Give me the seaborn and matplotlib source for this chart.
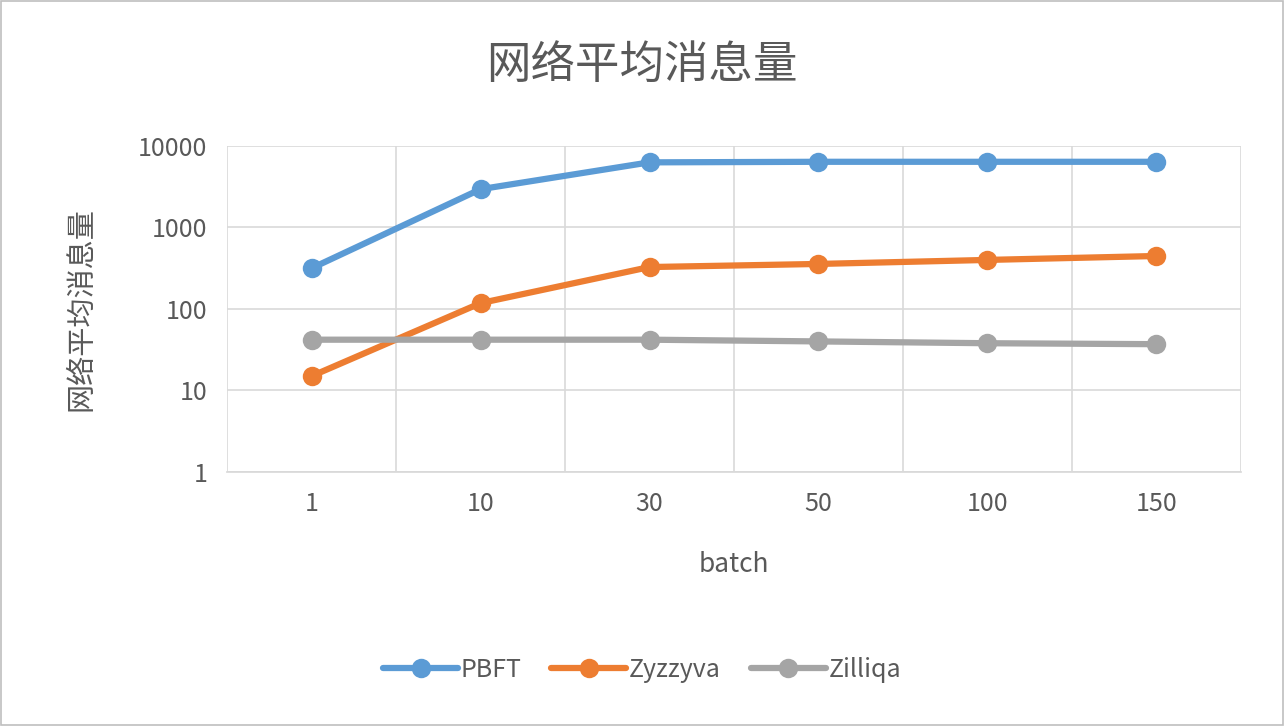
import matplotlib
matplotlib.use("Agg")
import matplotlib.pyplot as plt
import seaborn as sns
import pandas as pd
from matplotlib.patches import Rectangle
from matplotlib.ticker import FixedLocator, NullLocator

sns.set_theme(style="white")
plt.rcParams['font.family'] = ['Noto Sans CJK SC', 'DejaVu Sans']

batches = ["1", "10", "30", "50", "100", "150"]
pbft = [316, 2950, 6300, 6400, 6400, 6400]
zyzzyva = [15, 118, 327, 357, 400, 447]
zilliqa = [42, 42, 42, 40, 38, 37]
series_names = ["PBFT", "Zyzzyva", "Zilliqa"]
colors = ["#5B9BD5", "#ED7D31", "#A5A5A5"]

rows = []
for name, vals in zip(series_names, [pbft, zyzzyva, zilliqa]):
    for i, v in enumerate(vals):
        rows.append({"x": i, "value": v, "series": name})
df = pd.DataFrame(rows)

fig = plt.figure(figsize=(12.84, 7.26), dpi=100)
fig.patches.append(Rectangle((0.001, 0.001), 0.998, 0.997, transform=fig.transFigure,
                             fill=False, edgecolor="#BFBFBF", linewidth=1.2))
ax = fig.add_axes([0.1768, 0.3499, 0.7897, 0.4490])
sns.lineplot(data=df, x="x", y="value", hue="series", palette=colors, marker="o",
             markersize=14, markeredgewidth=0, linewidth=4.5, ax=ax, legend=True)
ax.set_yscale("log")
ax.set_ylim(1, 10000)
ax.set_xlim(-0.5, 5.5)
ax.set_xticks(range(6))
ax.set_xticklabels(batches)
ax.xaxis.set_minor_locator(FixedLocator([i - 0.5 for i in range(7)]))
ax.yaxis.set_minor_locator(NullLocator())
ax.set_yticks([1, 10, 100, 1000, 10000])
ax.set_yticklabels(["1", "10", "100", "1000", "10000"])
ax.grid(True, which="major", axis="y", color="#D9D9D9", linewidth=1.2)
ax.grid(True, which="minor", axis="x", color="#D9D9D9", linewidth=1.2)
for s in ["top", "right", "left"]:
    ax.spines[s].set_visible(False)
ax.spines["bottom"].set_color("#D9D9D9")
ax.tick_params(axis="both", which="both", length=0, labelsize=18, labelcolor="#595959", pad=14)
ax.set_xlabel("batch", fontsize=19, color="#595959", labelpad=24)
ax.set_ylabel("网络平均消息量", fontsize=21, color="#595959", labelpad=30)
fig.text(0.5, 0.91, "网络平均消息量", ha="center", va="center", fontsize=32, color="#595959")
h, l = ax.get_legend_handles_labels()
ax.get_legend().remove()
fig.legend(h, l, loc="center", bbox_to_anchor=(0.5, 0.077), ncol=3, frameon=False,
           fontsize=18, labelcolor="#595959", handlelength=3.0, handletextpad=0.1,
           columnspacing=1.2)
fig.savefig("out.png", dpi=100)
